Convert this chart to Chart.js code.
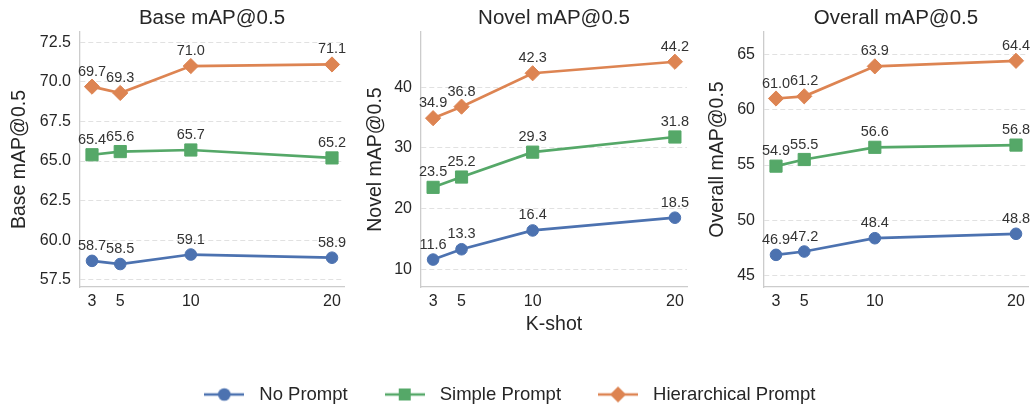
<!DOCTYPE html>
<html>
<head>
<meta charset="utf-8">
<script src="https://cdn.jsdelivr.net/npm/chart.js@4.4.1/dist/chart.umd.min.js"></script>
<style>
  html, body { margin: 0; padding: 0; background: #ffffff; overflow: hidden; width: 1030px; height: 408px; }
  body { position: relative; }
  canvas { position: absolute; display: block; }
</style>
</head>
<body>
<canvas id="c1" width="350" height="345" style="left:0px;top:0px;width:350px;height:345px"></canvas>
<canvas id="c2" width="345" height="345" style="left:350px;top:0px;width:345px;height:345px"></canvas>
<canvas id="c3" width="335" height="345" style="left:695px;top:0px;width:335px;height:345px"></canvas>
<canvas id="cl" width="1014" height="200" style="left:0px;top:354px;width:1014px;height:200px"></canvas>
<script>
// ---------------- data ----------------
const kShots = [3, 5, 10, 20];
const seriesNames = ['No Prompt', 'Simple Prompt', 'Hierarchical Prompt'];

const baseNoPrompt = [58.7, 58.5, 59.1, 58.9];
const baseSimple = [65.4, 65.6, 65.7, 65.2];
const baseHier = [69.7, 69.3, 71.0, 71.1];

const novelNoPrompt = [11.6, 13.3, 16.4, 18.5];
const novelSimple = [23.5, 25.2, 29.3, 31.8];
const novelHier = [34.9, 36.8, 42.3, 44.2];

const overallNoPrompt = [46.9, 47.2, 48.4, 48.8];
const overallSimple = [54.9, 55.5, 56.6, 56.8];
const overallHier = [61.0, 61.2, 63.9, 64.4];

const baseTicks = [57.5, 60.0, 62.5, 65.0, 67.5, 70.0, 72.5];
const novelTicks = [10, 20, 30, 40];
const overallTicks = [45, 50, 55, 60, 65];
const xTicks = [3, 5, 10, 20];

// ---------------- style ----------------
const FONT = '"Liberation Sans", Arial, Helvetica, sans-serif';
const TEXT = '#262626';
const colors = ['#4C72B0', '#55A868', '#DD8452'];
const pStyles = ['circle', 'rect', 'rectRot'];
const pRadius = [5.8, 8.6, 7.6];

const valueLabels = {
  id: 'valueLabels',
  afterDatasetsDraw(chart) {
    const ctx = chart.ctx;
    ctx.save();
    ctx.font = '14.5px ' + FONT;
    ctx.fillStyle = '#333333';
    ctx.textAlign = 'center';
    ctx.textBaseline = 'middle';
    chart.data.datasets.forEach((ds, i) => {
      const meta = chart.getDatasetMeta(i);
      meta.data.forEach((pt, j) => {
        ctx.fillText(ds.data[j].y.toFixed(1), pt.x, pt.y - 15);
      });
    });
    ctx.restore();
  }
};

function makeDatasets(arrs) {
  return arrs.map((vals, i) => ({
    label: seriesNames[i],
    data: kShots.map((k, j) => ({ x: k, y: vals[j] })),
    borderColor: colors[i],
    backgroundColor: colors[i],
    borderWidth: 2.7,
    pointStyle: pStyles[i],
    pointRadius: pRadius[i],
    pointBorderWidth: 1,
    pointBorderColor: colors[i],
    pointBackgroundColor: colors[i],
    tension: 0,
    clip: false
  }));
}

function makePanel(id, title, yLabel, arrs, yMin, yMax, yTicks, yDec, showXTitle, yWidth, yTitlePad, padRight) {
  new Chart(document.getElementById(id), {
    type: 'line',
    data: { datasets: makeDatasets(arrs) },
    options: {
      responsive: false,
      animation: false,
      events: [],
      layout: { autoPadding: false, padding: { left: 0, right: padRight, top: 0, bottom: 0 } },
      plugins: {
        legend: { display: false },
        tooltip: { enabled: false },
        title: {
          display: true,
          text: title,
          fullSize: false,
          color: TEXT,
          font: { family: FONT, size: 20.5, weight: 'normal' },
          padding: { top: 6, bottom: 1.4 }
        }
      },
      scales: {
        x: {
          type: 'linear',
          min: 2.15,
          max: 20.85,
          afterBuildTicks: (s) => { s.ticks = xTicks.map(v => ({ value: v })); },
          afterFit: (s) => { s.height = 58; s.paddingLeft = 0; s.paddingRight = 0; },
          grid: { display: false, drawTicks: false },
          border: { display: true, color: '#cccccc', width: 1.3 },
          ticks: {
            color: TEXT,
            padding: 5,
            maxRotation: 0,
            autoSkip: false,
            font: { family: FONT, size: 16 },
            callback: (v) => String(v)
          },
          title: {
            display: showXTitle,
            text: 'K-shot',
            color: TEXT,
            font: { family: FONT, size: 19.5 },
            padding: { top: 0, bottom: 8.6 }
          }
        },
        y: {
          type: 'linear',
          min: yMin,
          max: yMax,
          afterBuildTicks: (s) => { s.ticks = yTicks.map(v => ({ value: v })); },
          afterFit: (s) => { s.width = yWidth; s.paddingTop = 0; s.paddingBottom = 0; },
          grid: { display: true, drawTicks: false, color: '#dedede', lineWidth: 0.9 },
          border: { display: true, color: '#cccccc', width: 1.3, dash: [5, 3] },
          ticks: {
            color: TEXT,
            padding: 9,
            autoSkip: false,
            font: { family: FONT, size: 16 },
            callback: (v) => v.toFixed(yDec)
          },
          title: {
            display: true,
            text: yLabel,
            color: TEXT,
            font: { family: FONT, size: 19.5 },
            padding: { top: yTitlePad, bottom: 0 }
          }
        }
      }
    },
    plugins: [valueLabels]
  });
}

makePanel('c1', 'Base mAP@0.5', 'Base mAP@0.5', [baseNoPrompt, baseSimple, baseHier],
  57.05, 73.15, baseTicks, 1, false, 80, 8.3, 6);
makePanel('c2', 'Novel mAP@0.5', 'Novel mAP@0.5', [novelNoPrompt, novelSimple, novelHier],
  7.08, 49.1, novelTicks, 0, true, 71, 14.3, 8);
makePanel('c3', 'Overall mAP@0.5', 'Overall mAP@0.5', [overallNoPrompt, overallSimple, overallHier],
  44.0, 67.0, overallTicks, 0, false, 69, 11.3, 2);

// ---------------- legend ----------------
function legendIcon(i) {
  const c = document.createElement('canvas');
  c.width = 40; c.height = 20;
  const g = c.getContext('2d');
  g.strokeStyle = colors[i];
  g.fillStyle = colors[i];
  g.lineWidth = 2.7;
  g.beginPath(); g.moveTo(0, 10); g.lineTo(40, 10); g.stroke();
  g.beginPath();
  if (i === 0) { g.arc(20, 10, 6.3, 0, Math.PI * 2); }
  else if (i === 1) { g.rect(14, 4, 12, 12); }
  else { g.moveTo(20, 2); g.lineTo(28, 10); g.lineTo(20, 18); g.lineTo(12, 10); g.closePath(); }
  g.fill();
  return c;
}
const icons = [0, 1, 2].map(legendIcon);

new Chart(document.getElementById('cl'), {
  type: 'line',
  data: {
    datasets: seriesNames.map((n, i) => ({ label: n, data: [], borderColor: colors[i], backgroundColor: colors[i] }))
  },
  options: {
    responsive: false,
    animation: false,
    events: [],
    scales: { x: { display: false }, y: { display: false } },
    plugins: {
      tooltip: { enabled: false },
      legend: {
        display: true,
        position: 'top',
        align: 'center',
        labels: {
          usePointStyle: true,
          pointStyleWidth: 51.5,
          padding: 31.25,
          color: TEXT,
          font: { family: FONT, size: 18.5 },
          generateLabels: (chart) => chart.data.datasets.map((ds, i) => ({
            text: ds.label,
            pointStyle: icons[i],
            fillStyle: colors[i],
            strokeStyle: colors[i],
            lineWidth: 0,
            hidden: false,
            datasetIndex: i,
            fontColor: TEXT
          }))
        }
      }
    }
  }
});
</script>
</body>
</html>
